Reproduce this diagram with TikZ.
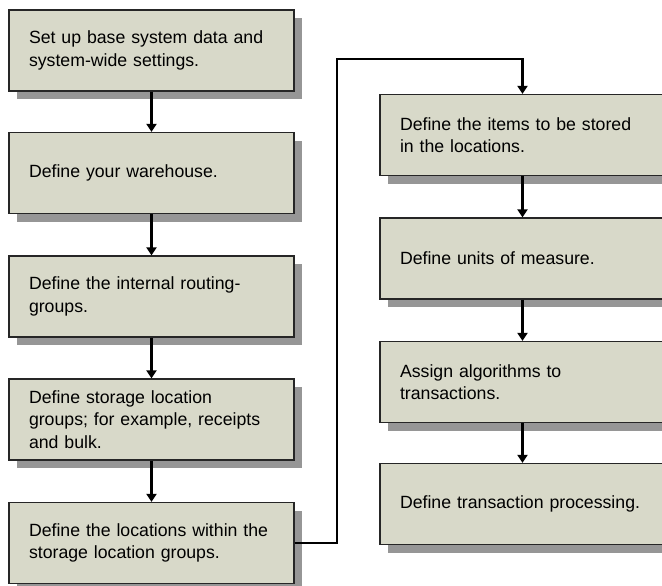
\documentclass[tikz,border=0pt]{standalone}
\usepackage{fontspec}
\setmainfont{Liberation Sans}
\usetikzlibrary{arrows.meta,shadows}
\definecolor{boxfill}{RGB}{216,217,201}
\definecolor{shadowgray}{RGB}{150,150,150}
\tikzset{
  stepbox/.style={draw=black!85, line width=1.2pt, fill=boxfill,
    minimum width=285pt, minimum height=81pt, text width=245pt,
    inner xsep=20pt, align=left,
    font=\fontsize{17.7}{22.5}\selectfont,
    general shadow={fill=shadowgray, shadow xshift=8pt, shadow yshift=-8pt}},
  conn/.style={line width=2.2pt, -{Triangle[length=8pt,width=10pt]}}
}
\begin{document}
\begin{tikzpicture}[x=1pt,y=-1pt]
\useasboundingbox (0,0) rectangle (662,586);
\clip (0,0) rectangle (662,586);
% left column
\node[stepbox] (b1) at (151.5,50.5) {Set up base system data and\\system-wide settings.};
\node[stepbox] (b2) at (151.5,173) {Define your warehouse.};
\node[stepbox] (b3) at (151.5,296.5) {Define the internal routing-\\groups.};
\node[stepbox] (b4) at (151.5,419.5) {Define storage location\\groups; for example, receipts\\and bulk.};
\node[stepbox] (b5) at (151.5,543) {Define the locations within the\\storage location groups.};
% right column
\node[stepbox] (r1) at (522.5,135) {Define the items to be stored\\in the locations.};
\node[stepbox] (r2) at (522.5,258.5) {Define units of measure.};
\node[stepbox] (r3) at (522.5,382) {Assign algorithms to\\transactions.};
\node[stepbox] (r4) at (522.5,504) {Define transaction processing.};
% connectors
\draw[conn] (b1) -- (b2);
\draw[conn] (b2) -- (b3);
\draw[conn] (b3) -- (b4);
\draw[conn] (b4) -- (b5);
\coordinate (turn) at (337,59);
\draw[conn] (b5.east) -| (turn) -| (r1.north);
\draw[conn] (r1) -- (r2);
\draw[conn] (r2) -- (r3);
\draw[conn] (r3) -- (r4);
\end{tikzpicture}
\end{document}
